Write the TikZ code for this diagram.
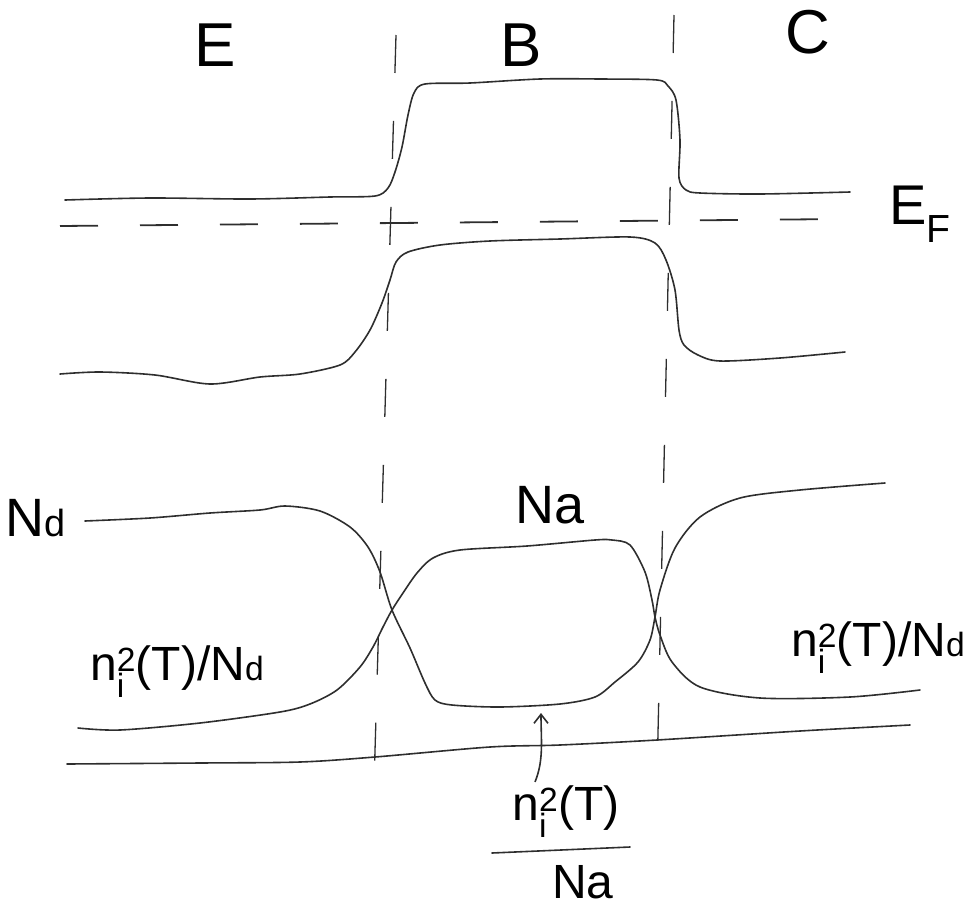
\documentclass[tikz,border=0pt]{standalone}
\usepackage{fontspec}
\setmainfont{Liberation Sans}
\usepackage{tikz}
\usetikzlibrary{arrows.meta}
\definecolor{pencil}{HTML}{2E2E2E}
\newcommand{\nisq}{$\mathrm{n}_{\mathrm{i}}^{\mathrm{2}}$(T)}
\newcommand{\lowlt}[1]{\scalebox{0.7}{#1}}
\tikzset{
  crv/.style   ={draw=pencil, line width=1.6pt, line cap=round, line join=round},
  vdash/.style ={draw=pencil, line width=1.3pt, dash pattern=on 38pt off 48pt},
  fdash/.style ={draw=pencil, line width=1.8pt, dash pattern=on 38pt off 42pt},
  reg/.style   ={inner sep=0pt, font=\fontsize{62}{62}\selectfont},
  lbl/.style   ={inner sep=0pt, font=\fontsize{54}{54}\selectfont},
  lblsm/.style ={inner sep=0pt, font=\fontsize{48}{48}\selectfont},
  ar/.style    ={-{Straight Barb[length=9pt,width=14pt]}, draw=pencil, line width=1.6pt},
}
\begin{document}
\begin{tikzpicture}[x=1pt,y=-1pt]
\useasboundingbox (0,0) rectangle (967,911);
% region names
\node[reg] (regE) at (215,45) {E};
\node[reg] (regB) at (521,45) {B};
\node[reg] (regC) at (808,32) {C};
% junction boundaries
\draw[vdash] (396,35) -- (374,785);
\draw[vdash] (674,15) -- (657,778);
% band edges and Fermi level
\draw[crv] plot[smooth, tension=0.5] coordinates {(65,200) (150,198) (250,199) (330,197) (375,196) (388,188) (395,172) (402,147) (408,115) (414,93) (425,84) (470,83) (540,79) (600,79) (657,80) (668,86) (676,100) (680,140) (679,178) (686,190) (700,193) (760,194) (850,192)};
\draw[fdash] (60,226) -- (845,219);
\node[reg, font=\fontsize{56}{56}\selectfont] (lvlEF) at (920,214) {E\textsubscript{F}};
\draw[crv] plot[smooth, tension=0.5] coordinates {(60,374) (100,372) (155,375) (210,384) (260,377) (300,374) (340,365) (355,352) (370,330) (382,303) (390,280) (396,262) (408,252) (440,245) (490,241) (560,239) (630,237) (655,243) (666,260) (675,290) (679,330) (684,345) (698,355) (720,361) (780,358) (845,352)};
% carrier densities
\node[lbl] (dopNd) at (36,518) {N\lowlt{d}};
\node[lbl] (dopNa) at (550,505) {Na};
\draw[crv] plot[smooth, tension=0.5] coordinates {(85,521) (150,518) (210,513) (260,510) (285,506) (320,511) (350,527) (368,547) (380,572) (392,610) (410,648) (425,683) (435,700) (452,705) (500,707) (560,704) (595,697) (615,682) (638,662) (650,640) (655,617) (660,590) (675,548) (700,517) (740,498) (800,490) (885,483)};
\draw[crv] plot[smooth, tension=0.5] coordinates {(78,728) (120,730) (200,723) (280,712) (310,704) (337,690) (360,667) (373,647) (383,627) (392,610) (403,593) (417,573) (433,558) (460,550) (527,546) (595,540) (612,540) (630,545) (645,572) (652,600) (655,617) (660,635) (672,662) (700,687) (760,698) (850,697) (920,690)};
\node[lblsm] (minE) at (177,672) {\nisq/N\lowlt{d}};
\node[lblsm] (minC) at (878,648) {\nisq/N\lowlt{d}};
% axis
\draw[crv] plot[smooth, tension=0.5] coordinates {(67,764) (200,763) (300,762) (375,757) (490,747) (560,745) (657,740) (800,731) (910,725)};
% base minority density
\node[lblsm] (minBtop) at (566,812) {\nisq};
\node[lblsm] (minBbot) at (583,882) {Na};
\draw[crv] (492,853) -- (630,847);
\coordinate (ebot) at (541,713);
\draw[ar] (minBtop.north) ++(-31,-4) .. controls (544,760) and (541,740) .. (ebot);
\end{tikzpicture}
\end{document}
